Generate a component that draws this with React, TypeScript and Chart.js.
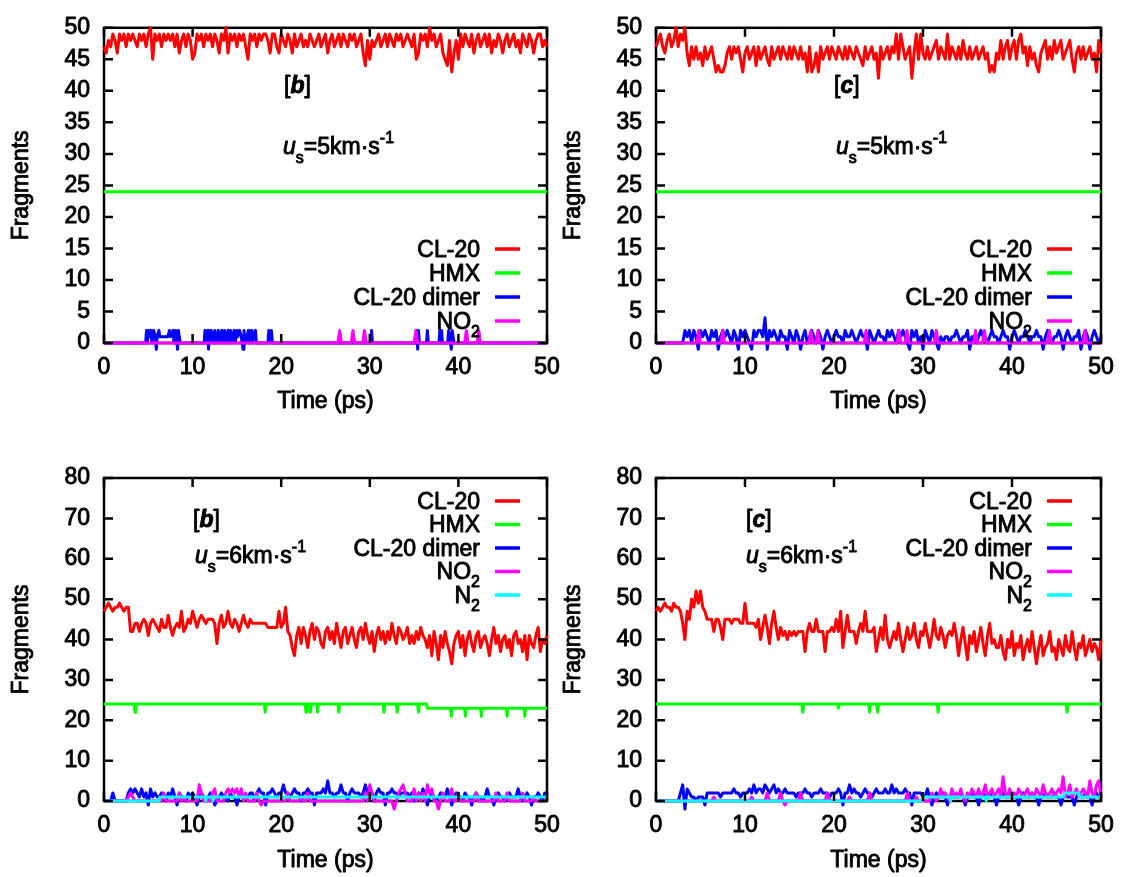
import React, { useEffect, useRef } from "react";
import { Chart, registerables } from "chart.js";

Chart.register(...registerables);

// ---------------- data ----------------
const STEP_PS = 0.25; // sampling step of the dense series (ps)
const X_TICKS = [0, 10, 20, 30, 40, 50];
const Y_TICKS_TOP = [0, 5, 10, 15, 20, 25, 30, 35, 40, 45, 50];
const Y_TICKS_BOTTOM = [0, 10, 20, 30, 40, 50, 60, 70, 80];
const SERIES_NAMES = ["CL-20", "HMX", "CL-20 dimer", "NO2", "N2"];
const SERIES_COLORS = ["#ff0000", "#00ff00", "#0000ff", "#ff00ff", "#00ffff"];
const X_TITLE = "Time (ps)";
const Y_TITLE = "Fragments";

// u_s = 5 km/s, panel [b]
const CL20_5B = [47,
  46,48,47,49,48,46,49,48,49,47,49,48,49,48,47,49,48,49,47,49,
  50,45,49,48,49,47,49,48,49,48,49,47,49,46,48,49,47,49,48,45,
  46,49,48,49,47,49,48,49,47,49,48,46,49,48,50,46,49,48,49,47,
  49,48,49,47,45,49,48,49,47,49,48,49,49,48,46,49,49,47,46,49,
  48,47,49,48,46,49,47,48,49,47,48,47,49,48,47,48,49,47,48,49,
  46,48,49,47,48,49,47,49,48,47,49,48,49,47,48,49,46,44,48,45,
  48,47,48,49,47,48,49,47,49,48,47,49,48,49,47,48,49,48,47,49,
  45,46,49,48,49,47,50,48,49,47,48,49,46,45,44,48,43,46,48,45,
  49,47,49,48,47,49,46,48,49,47,48,49,47,49,46,48,47,49,48,46,
  48,49,47,48,49,47,48,46,49,48,47,49,48,46,48,49,49,47,48,47];
const HMX_5B = [[0, 24], [50, 24]];
const DIMER_5B = [[0,0],[4.7,0],[4.8,2],[4.9,0],[5.0,2],[5.1,1],[5.3,2],[5.4,0],[5.6,2],[5.8,1],[5.9,-1],[6.0,1],[6.2,2],[6.3,1],[7.2,1],[7.4,2],[7.5,1],[7.8,2],[7.9,0],[8.1,2],[8.3,-1],[8.4,2],[8.6,0],
  [11.3,0],[11.4,2],[11.6,0],[11.7,2],[11.8,-1],[11.9,2],[12.0,0],[12.1,2],[12.3,0],[12.5,2],[12.6,0],[12.9,2],[13.0,0],[13.3,2],[13.4,0],[13.6,2],[13.7,0],[14.0,2],[14.1,0],[14.3,2],[14.4,0],[14.7,2],[14.8,0],[15.0,2],[15.1,1],[15.3,2],[15.5,1],[15.7,-1],[15.8,2],[16.0,0],[16.3,2],[16.4,0],[16.6,2],[16.7,0],[17.1,2],[17.2,0],[18.5,0],[18.6,2],[18.7,0],[18.9,2],[19.0,0],
  [30.1,0],[30.2,2],[30.3,0],
  [35.2,0],[35.3,2],[35.4,-1],[35.5,2],[35.6,0],[36.4,0],[36.5,2],[36.6,0],[37.8,0],[37.9,2],[38.0,0],[38.1,2],[38.2,0],[38.8,0],[38.9,2],[39.0,1],[39.2,-1],[39.3,2],[39.5,0],[50,0]];
const NO2_5B = [[0,0],[26.4,0],[26.6,2],[26.8,0],[27.9,0],[28.1,2],[28.3,0],[29.2,0],[29.4,2],[29.6,0],[35.0,0],[35.2,2],[35.4,0],[40.7,0],[40.9,2],[41.1,0],[42.1,0],[42.3,2],[42.5,0],[50,0]];

// u_s = 5 km/s, panel [c]
const CL20_5C = [47,
  48,49,47,46,48,49,47,48,50,47,49,48,50,46,44,47,45,47,45,46,
  44,47,45,46,47,45,43,44,43,43,44,46,47,45,47,46,47,45,43,46,
  47,45,46,47,44,47,45,46,47,45,44,47,45,46,47,45,47,46,45,47,
  45,47,46,45,47,45,46,43,47,43,44,46,43,47,45,46,47,45,47,46,
  45,47,46,45,47,45,47,46,45,47,46,45,44,47,45,46,47,45,46,42,
  47,45,46,47,45,47,46,49,45,49,47,45,46,47,42,46,49,45,49,46,
  45,47,45,46,47,48,45,47,46,45,49,45,47,46,45,47,45,48,46,45,
  47,45,46,47,45,46,47,45,46,43,44,43,46,45,48,45,47,48,45,47,
  48,45,48,49,46,47,44,47,45,46,44,43,46,47,48,45,47,45,48,46,
  47,48,45,46,47,48,45,43,46,47,45,47,45,46,47,45,46,43,48,46];
const HMX_5C = [[0, 24], [50, 24]];
const DIMER_5C = [0,
  0,0,0,0,0,0,0,0,0,0,0,0,2,1,2,0,2,1,-1,2,
  1,2,1,0,2,1,2,-1,1,2,1,2,1,0,2,1,-1,2,1,2,
  1,0,-1,2,1,2,2,1,4,-1,2,1,2,1,0,2,1,1,-1,2,
  1,0,2,1,-1,1,2,0,1,2,1,0,2,1,-1,1,2,1,0,1,
  2,1,1,0,2,1,1,2,1,0,1,2,1,1,-1,2,1,0,1,2,
  1,1,0,2,1,2,1,0,2,1,2,1,0,-1,2,1,2,0,1,-1,
  2,1,0,2,1,0,-1,1,0,1,1,0,1,1,2,1,0,1,1,2,
  -1,1,1,0,1,2,1,1,0,1,2,1,1,0,1,2,1,1,-1,1,
  2,1,0,1,1,2,1,0,1,1,2,1,1,-1,1,2,1,0,1,1,
  2,1,-1,1,2,1,0,1,1,2,-1,1,2,1,-1,1,2,1,0,1];
const NO2_5C = [[0,0],[4.6,0],[4.8,2],[5.0,0],[7.3,0],[7.5,2],[7.7,0],[17.2,0],[17.4,2],[17.6,0],[18.0,0],[18.2,2],[18.4,0],[23.4,0],[23.6,2],[23.8,0],[27.1,0],[27.3,2],[27.5,0],[28.0,0],[28.2,2],[28.4,0],[31.3,0],[31.5,2],[31.7,0],[35.7,0],[35.9,2],[36.1,0],[36.7,0],[36.9,2],[37.1,0],[44.0,0],[44.2,2],[44.4,0],[48.0,0],[48.2,2],[48.4,0],[50,0]];

// u_s = 6 km/s, panel [b]
const CL20_6B = [47,
  48,49,48,47,48,48,49,48,47,48,48,42,42,44,44,42,44,45,44,41,
  44,45,44,43,42,45,43,43,46,43,41,43,44,43,47,42,43,45,44,47,
  45,43,45,46,45,44,45,45,45,44,39,44,46,43,44,47,44,43,45,44,
  42,44,46,44,43,45,44,44,44,44,44,44,44,43,43,43,43,43,47,43,
  44,48,42,41,38,36,41,43,39,43,41,38,42,44,40,43,42,39,38,42,
  43,40,42,39,44,41,38,42,43,39,41,43,40,38,42,43,40,44,41,39,
  42,37,41,43,40,42,39,42,40,44,41,39,43,42,40,41,43,39,41,39,
  42,40,43,41,40,38,41,36,42,39,35,41,38,42,39,37,34,39,41,42,
  38,41,36,40,42,39,37,41,42,38,40,41,39,36,40,43,39,41,37,40,
  41,38,40,36,41,42,39,40,37,41,35,41,39,38,41,43,37,40,39,41];
const HMX_6B = [[0,24],[3.4,24],[3.5,22],[3.6,24],[18.1,24],[18.2,22],[18.3,24],[22.7,24],[22.8,22],[22.9,24],[23.2,24],[23.3,22],[23.4,24],[24.0,24],[24.1,22],[24.2,24],[26.4,24],[26.5,22],[26.6,24],[31.5,24],[31.6,22],[31.7,24],[33.0,24],[33.1,22],[33.2,24],[35.4,24],[35.5,22],[35.6,24],[36.4,24],[36.5,23],[39.1,23],[39.2,21],[39.3,23],[40.7,23],[40.8,21],[40.9,23],[42.5,23],[42.6,21],[42.7,23],[45.4,23],[45.5,21],[45.6,23],[47.4,23],[47.5,21],[47.6,23],[50,23]];
const DIMER_6B = [0,
  0,0,0,2,0,0,0,0,0,0,2,3,2,3,2,1,3,1,2,-1,
  3,1,2,1,1,2,1,0,2,1,3,1,-1,2,1,1,0,2,1,2,
  1,-1,1,2,1,0,1,2,1,-1,0,1,2,1,1,0,2,1,1,-1,
  1,2,1,1,1,2,2,0,2,3,2,2,-1,2,2,3,2,1,2,2,
  4,2,2,1,2,3,2,2,0,2,2,3,2,2,-1,2,2,2,3,2,
  5,2,2,1,2,2,4,2,2,0,2,3,2,2,2,1,2,4,2,2,
  2,0,2,3,2,2,-1,2,2,3,2,2,1,2,2,2,2,1,2,0,
  1,2,1,3,1,-1,1,2,1,0,1,2,1,1,3,1,-1,1,2,1,
  1,0,2,1,1,-1,1,2,1,1,0,1,3,1,1,-1,1,2,1,1,
  0,1,2,1,1,1,3,1,0,1,2,1,-1,1,1,2,1,0,2,1];
const NO2_6B = [0,
  0,0,0,0,0,0,0,0,0,0,1,2,1,0,0,0,0,0,0,0,
  0,0,0,0,0,0,2,0,0,0,0,0,0,2,0,1,0,0,0,0,
  0,0,4,2,0,0,0,0,2,3,0,0,0,0,2,3,2,3,2,3,
  1,3,0,2,0,0,0,0,2,0,-1,0,0,0,0,0,0,0,0,0,
  0,0,2,0,0,0,0,0,1,0,0,2,0,0,0,0,0,0,0,0,
  0,0,0,0,0,0,0,0,0,0,0,0,0,0,0,0,0,2,0,4,
  2,0,0,0,0,0,0,0,0,0,-2,0,2,3,4,2,0,0,0,3,
  0,2,0,2,0,4,2,3,0,0,-2,0,2,0,0,0,3,0,0,2,
  0,0,0,0,0,0,0,2,0,0,0,0,0,0,0,0,2,0,0,0,
  0,2,0,0,0,0,0,0,2,0,0,0,0,1,0,0,0,0,0,0];
const N2_6B = [[0,0],[6.2,0],[6.3,1],[11.4,1],[11.5,0],[11.6,1],[12.2,1],[12.3,0],[12.4,1],[50,1]];

// u_s = 6 km/s, panel [c]
const CL20_6C = [47,
  48,47,48,49,48,48,47,49,48,48,47,44,40,47,45,50,48,52,49,52,
  48,47,45,45,45,42,45,45,43,40,45,45,45,44,45,45,45,44,44,49,
  44,44,44,44,43,45,40,43,46,43,39,44,47,43,40,43,41,42,40,42,
  41,42,41,42,42,42,37,42,44,42,42,45,42,42,42,37,42,42,43,42,
  45,42,47,38,42,46,42,42,42,39,42,44,42,47,42,42,42,43,37,40,
  43,40,46,40,38,40,42,40,44,40,37,40,43,40,41,44,40,38,42,41,
  44,41,38,41,45,41,40,43,41,38,41,42,41,44,41,36,40,43,39,35,
  41,39,42,37,40,43,39,36,41,44,39,40,38,38,41,37,35,40,38,42,
  36,39,38,41,35,38,40,37,42,38,34,38,41,36,38,39,42,37,38,35,
  40,38,36,41,38,37,42,38,35,39,38,41,36,38,40,37,39,38,35,40];
const HMX_6C = [[0,24],[16.4,24],[16.5,22],[16.6,24],[20.4,24],[20.5,23],[20.6,24],[23.9,24],[24.0,22],[24.1,24],[24.8,24],[24.9,22],[25.0,24],[31.6,24],[31.7,22],[31.8,24],[46.1,24],[46.2,22],[46.3,24],[50,24]];
const DIMER_6C = [0,
  0,0,0,0,0,0,0,0,0,0,2,4,-2,3,2,1,1,0,1,1,
  1,-1,2,2,2,2,2,2,1,2,2,2,2,2,3,2,2,1,2,2,
  2,3,2,4,2,3,3,2,4,3,2,3,4,2,3,2,2,3,2,2,
  2,2,1,2,2,2,3,2,2,1,2,2,2,3,2,2,2,1,2,2,
  2,3,2,-1,2,2,4,2,3,2,2,1,2,3,2,2,1,2,3,2,
  2,2,3,2,2,4,2,3,2,2,2,3,2,2,-1,2,2,2,2,1,
  1,3,1,-1,1,2,1,1,2,1,-1,1,2,1,1,1,2,1,-1,1,
  1,2,1,1,-1,1,2,1,1,1,2,1,-1,1,1,2,1,1,1,2,
  1,1,-1,1,2,1,1,1,2,1,1,-1,1,1,2,1,1,1,2,1,
  1,-1,1,2,1,1,1,-1,1,2,1,1,2,1,1,-1,1,2,1,1];
const NO2_6C = [0,
  0,0,0,0,0,0,0,0,0,0,0,0,0,0,0,0,0,0,0,0,
  0,0,0,0,0,1,0,0,0,0,0,0,0,0,0,0,0,0,0,0,
  0,0,1,0,0,0,0,0,0,2,0,0,0,0,0,2,0,-1,0,0,
  0,0,0,0,2,0,0,0,0,0,0,0,0,0,0,0,2,0,0,0,
  0,0,0,0,0,0,1,0,0,0,0,0,0,0,0,2,0,0,0,0,
  0,0,0,0,0,0,0,0,0,0,0,0,2,0,0,0,1,0,0,0,
  0,0,0,2,1,0,1,3,1,2,1,0,3,1,2,1,3,1,0,2,
  1,3,2,1,3,1,2,4,1,2,3,1,2,3,1,6,2,1,3,1,
  2,1,3,2,1,2,3,1,2,1,3,2,1,4,2,1,2,3,1,2,
  3,2,6,1,2,4,1,2,3,1,2,3,2,1,5,2,1,4,5,1];
const N2_6C = [[0,0],[29.9,0],[30.0,1],[33.0,1],[33.1,0],[33.2,1],[37.0,1],[37.1,0],[37.2,1],[45.8,1],[45.9,2],[47.5,2],[47.6,1],[50,1]];

// ---------------- helpers ----------------
const FAMILY = '"Liberation Sans", Arial, Helvetica, sans-serif';
const F_MAIN = `23px ${FAMILY}`;
const F_SMALL = `16px ${FAMILY}`;
const F_ITALIC = `italic 23px ${FAMILY}`;
const F_BOLDIT = `italic bold 23px ${FAMILY}`;
const TEXT_STROKE = 0.9;

const dense = (vals: number[]) => vals.map((y, i) => ({ x: i * STEP_PS, y }));
const sparse = (pairs: number[][]) => pairs.map(([x, y]) => ({ x, y }));

type Part = { t: string; f: string; dy?: number };

function heavyText(ctx: CanvasRenderingContext2D, t: string, x: number, y: number) {
  ctx.fillText(t, x, y);
  ctx.strokeText(t, x, y);
}
function partsWidth(ctx: CanvasRenderingContext2D, parts: Part[]) {
  let w = 0;
  for (const p of parts) {
    ctx.font = p.f;
    w += ctx.measureText(p.t).width;
  }
  return w;
}
function drawParts(ctx: CanvasRenderingContext2D, x: number, y: number, parts: Part[]) {
  let cx = x;
  for (const p of parts) {
    ctx.font = p.f;
    heavyText(ctx, p.t, cx, y + (p.dy || 0));
    cx += ctx.measureText(p.t).width;
  }
}
function legendParts(name: string): Part[] {
  if (name === "NO2") return [{ t: "NO", f: F_MAIN }, { t: "2", f: F_SMALL, dy: 8 }];
  if (name === "N2") return [{ t: "N", f: F_MAIN }, { t: "2", f: F_SMALL, dy: 8 }];
  return [{ t: name, f: F_MAIN }];
}

type Panel = {
  left: number; top: number; w: number; h: number;
  plotLeft: number; plotRight: number; plotTop: number; plotBottom: number;
  yMax: number; yTicks: number[];
  tag: string; tagX: number; tagY: number;
  speed: string; usX: number; usY: number;
  legendY: number[]; xTitleY: number; yTitleX: number;
  series: { x: number; y: number }[][];
};

const PANELS: Panel[] = [
  { left: 0, top: 0, w: 575, h: 438, plotLeft: 104, plotRight: 547, plotTop: 19, plotBottom: 343,
    yMax: 50, yTicks: Y_TICKS_TOP, tag: "b", tagX: 284, tagY: 93, speed: "5", usX: 283, usY: 154,
    legendY: [249, 273, 297, 321], xTitleY: 402, yTitleX: 21.5,
    series: [dense(CL20_5B), sparse(HMX_5B), sparse(DIMER_5B), sparse(NO2_5B)] },
  { left: 552, top: 0, w: 574, h: 438, plotLeft: 104, plotRight: 549, plotTop: 19, plotBottom: 343,
    yMax: 50, yTicks: Y_TICKS_TOP, tag: "c", tagX: 282, tagY: 93, speed: "5", usX: 284, usY: 154,
    legendY: [249, 273, 297, 321], xTitleY: 402, yTitleX: 21.5,
    series: [dense(CL20_5C), sparse(HMX_5C), dense(DIMER_5C), sparse(NO2_5C)] },
  { left: 0, top: 440, w: 575, h: 437, plotLeft: 104, plotRight: 547, plotTop: 38, plotBottom: 361,
    yMax: 80, yTicks: Y_TICKS_BOTTOM, tag: "b", tagX: 193, tagY: 87, speed: "6", usX: 195, usY: 123,
    legendY: [61, 84.5, 108, 131.5, 155], xTitleY: 421, yTitleX: 21.5,
    series: [dense(CL20_6B), sparse(HMX_6B), dense(DIMER_6B), dense(NO2_6B), sparse(N2_6B)] },
  { left: 552, top: 440, w: 574, h: 437, plotLeft: 104, plotRight: 549, plotTop: 38, plotBottom: 361,
    yMax: 80, yTicks: Y_TICKS_BOTTOM, tag: "c", tagX: 194, tagY: 87, speed: "6", usX: 194, usY: 123,
    legendY: [61, 84.5, 108, 131.5, 155], xTitleY: 421, yTitleX: 21.5,
    series: [dense(CL20_6C), sparse(HMX_6C), dense(DIMER_6C), dense(NO2_6C), sparse(N2_6C)] },
];

const LEGEND_TEXT_RIGHT = 480;
const LEGEND_LINE_X0 = 495;
const LEGEND_LINE_X1 = 520;

function makeDecor(p: Panel) {
  return {
    id: "gnuplotDecor",
    beforeDatasetsDraw(chart: any) {
      const { ctx, chartArea: a } = chart;
      ctx.save();
      ctx.strokeStyle = "#000";
      ctx.lineWidth = 2.5;
      ctx.strokeRect(a.left, a.top, a.right - a.left, a.bottom - a.top);
      ctx.restore();
    },
    afterDatasetsDraw(chart: any) {
      const { ctx, chartArea: a, scales } = chart;
      ctx.save();
      ctx.strokeStyle = "#000";
      ctx.lineWidth = 2.5;
      ctx.beginPath();
      for (const t of scales.y.ticks) {
        const y = scales.y.getPixelForValue(t.value);
        ctx.moveTo(a.left, y); ctx.lineTo(a.left + 9, y);
        ctx.moveTo(a.right, y); ctx.lineTo(a.right - 9, y);
      }
      for (const t of scales.x.ticks) {
        const x = scales.x.getPixelForValue(t.value);
        ctx.moveTo(x, a.bottom); ctx.lineTo(x, a.bottom - 9);
        ctx.moveTo(x, a.top); ctx.lineTo(x, a.top + 9);
      }
      ctx.stroke();

      ctx.fillStyle = "#000";
      ctx.lineJoin = "round";

      // axis titles
      ctx.font = F_MAIN;
      ctx.textAlign = "center";
      ctx.textBaseline = "middle";
      ctx.strokeStyle = "#000";
      ctx.lineWidth = TEXT_STROKE;
      heavyText(ctx, X_TITLE, (a.left + a.right) / 2, p.xTitleY);
      ctx.save();
      ctx.translate(p.yTitleX, (a.top + a.bottom) / 2);
      ctx.rotate(-Math.PI / 2);
      heavyText(ctx, Y_TITLE, 0, 0);
      ctx.restore();

      // legend
      ctx.textBaseline = "alphabetic";
      ctx.textAlign = "left";
      p.series.forEach((_, i) => {
        const y = p.legendY[i];
        const parts = legendParts(SERIES_NAMES[i]);
        const w = partsWidth(ctx, parts);
        ctx.fillStyle = "#000";
        ctx.strokeStyle = "#000";
        ctx.lineWidth = TEXT_STROKE;
        drawParts(ctx, LEGEND_TEXT_RIGHT - w, y + 7.5, parts);
        ctx.strokeStyle = SERIES_COLORS[i];
        ctx.lineWidth = 3.5;
        ctx.beginPath();
        ctx.moveTo(LEGEND_LINE_X0, y);
        ctx.lineTo(LEGEND_LINE_X1, y);
        ctx.stroke();
      });

      // annotations
      ctx.fillStyle = "#000";
      ctx.strokeStyle = "#000";
      ctx.lineWidth = TEXT_STROKE;
      drawParts(ctx, p.tagX, p.tagY, [
        { t: "[", f: F_MAIN }, { t: p.tag, f: F_BOLDIT }, { t: "]", f: F_MAIN },
      ]);
      drawParts(ctx, p.usX, p.usY, [
        { t: "u", f: F_ITALIC }, { t: "s", f: F_SMALL, dy: 9 },
        { t: "=" + p.speed + "km·s", f: F_MAIN }, { t: "-1", f: F_SMALL, dy: -11 },
      ]);
      ctx.restore();
    },
  };
}

function buildChart(canvas: HTMLCanvasElement, p: Panel) {
  const font = { family: FAMILY, size: 23 };
  const tickStyle = { font, color: "#000", textStrokeColor: "#000", textStrokeWidth: TEXT_STROKE, autoSkip: false };
  return new Chart(canvas, {
    type: "line",
    data: {
      datasets: p.series.map((pts, i) => ({
        label: SERIES_NAMES[i],
        data: pts,
        borderColor: SERIES_COLORS[i],
        backgroundColor: SERIES_COLORS[i],
        borderWidth: 3,
        pointRadius: 0,
        tension: 0,
        fill: false,
        clip: false,
        order: 10 - i,
        borderJoinStyle: "round",
      })),
    },
    options: {
      responsive: false,
      animation: false,
      events: [],
      layout: { padding: { left: 0, top: p.plotTop, right: p.w - p.plotRight, bottom: 0 } },
      plugins: { legend: { display: false }, tooltip: { enabled: false } },
      scales: {
        x: {
          type: "linear",
          min: 0,
          max: 50,
          afterBuildTicks: (s: any) => { s.ticks = X_TICKS.map((v) => ({ value: v })); },
          afterFit: (s: any) => { s.height = p.h - p.plotBottom; },
          grid: { display: false, drawTicks: false },
          border: { display: false },
          ticks: { ...tickStyle, padding: 11, maxRotation: 0 },
          title: { display: false },
        },
        y: {
          type: "linear",
          min: 0,
          max: p.yMax,
          afterBuildTicks: (s: any) => { s.ticks = p.yTicks.map((v) => ({ value: v })); },
          afterFit: (s: any) => { s.width = p.plotLeft; },
          grid: { display: false, drawTicks: false },
          border: { display: false },
          ticks: { ...tickStyle, padding: 14 },
          title: { display: false },
        },
      },
    },
    plugins: [makeDecor(p)],
  } as any);
}

export default function App() {
  const refs = useRef<(HTMLCanvasElement | null)[]>([]);
  useEffect(() => {
    const charts = PANELS.map((p, i) => buildChart(refs.current[i] as HTMLCanvasElement, p));
    return () => charts.forEach((c) => c.destroy());
  }, []);
  return (
    <div style={{ position: "fixed", left: 0, top: 0, width: 1126, height: 877, background: "#fff" }}>
      {PANELS.map((p, i) => (
        <canvas
          key={i}
          ref={(el) => { refs.current[i] = el; }}
          width={p.w}
          height={p.h}
          style={{ position: "absolute", left: p.left, top: p.top, width: p.w, height: p.h }}
        />
      ))}
    </div>
  );
}
